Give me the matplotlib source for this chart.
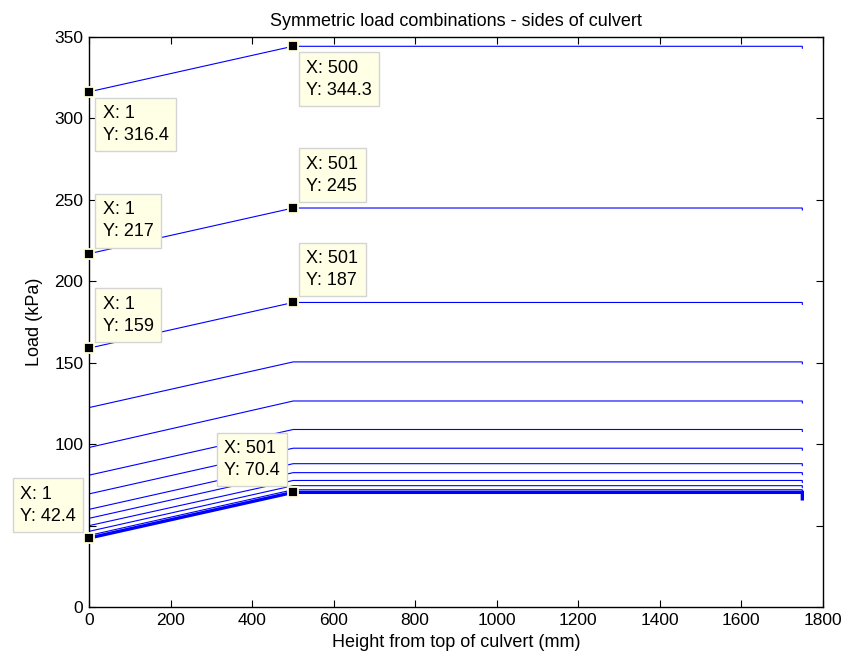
import numpy as np
import matplotlib
matplotlib.use('agg')
import matplotlib.pyplot as plt

plt.rcParams['font.family'] = ['Liberation Sans', 'DejaVu Sans']

# load at top of culvert (x=1) and at 500 mm, for each combination
start_load = [316.4, 217.0, 159.0, 122.5, 98.0, 81.0, 69.5, 60.0, 54.5, 50.0, 46.5, 44.0, 42.4]
peak_load = [344.3, 245.0, 187.0, 150.5, 126.5, 109.0, 97.5, 88.0, 82.5, 77.7, 74.5, 72.0, 70.4]
end_drop = [1.2, 1.2, 1.2, 1.2, 1.2, 1.2, 1.2, 1.2, 1.2, 1.2, 1.2, 1.2, 4.0]
line_w = [0.8] * 12 + [2.4]
x_start = 1
x_peak = [500] + [501] * 12
x_end = 1750

# data tips: (x, y, side)
tips_x = [1, 500, 1, 501, 1, 501, 1, 501]
tips_y = [316.4, 344.3, 217, 245, 159, 187, 42.4, 70.4]
tips_side = ['lr', 'lr', 'ur', 'ur', 'ur', 'ur', 'ul', 'ul']

fig = plt.figure(figsize=(8.5, 6.61), dpi=100)
ax = fig.add_axes([0.1047, 0.0817, 0.8632, 0.8623])

for i in range(len(start_load)):
    xs = [x_start, x_peak[i], x_end, x_end]
    ys = [start_load[i], peak_load[i], peak_load[i], peak_load[i] - end_drop[i]]
    ax.plot(xs, ys, color='#0000ff', lw=line_w[i], solid_joinstyle='miter')

fs = 12.5
pad_px = 6
for x, y, side in zip(tips_x, tips_y, tips_side):
    ax.plot(x, y, 's', ms=7, mfc='black', mec='#ffffd8', mew=1.3, clip_on=False, zorder=6)
    txt = 'X: %g\nY: %g' % (x, y)
    boxpad = 0.4 * 13 * 100 / 72.0
    off = pad_px + boxpad
    if side == 'lr':
        xy_off, ha, va = (off, -off), 'left', 'top'
    elif side == 'ur':
        xy_off, ha, va = (off, off), 'left', 'bottom'
    else:
        xy_off, ha, va = (-off, off), 'right', 'bottom'
    ax.annotate(txt, (x, y), xytext=xy_off, textcoords='offset pixels',
                ha=ha, va=va, multialignment='left', fontsize=13, linespacing=1.4, zorder=7,
                bbox=dict(boxstyle='square,pad=0.4', fc='#ffffe6', ec='#d4d4d4', lw=1))

ax.set_xlim(0, 1800)
ax.set_ylim(0, 350)
ax.set_xticks(np.arange(0, 1801, 200))
ax.set_yticks(np.arange(0, 351, 50))
ax.tick_params(direction='in', top=True, right=True, length=5, width=0.8, labelsize=fs, pad=4)
for s in ax.spines.values():
    s.set_linewidth(1.0)

ax.set_title('Symmetric load combinations - sides of culvert', fontsize=13, pad=8)
ax.set_xlabel('Height from top of culvert (mm)', fontsize=13, labelpad=5)
ax.set_ylabel('Load (kPa)', fontsize=13, labelpad=8)

fig.savefig('out.png', dpi=100)
